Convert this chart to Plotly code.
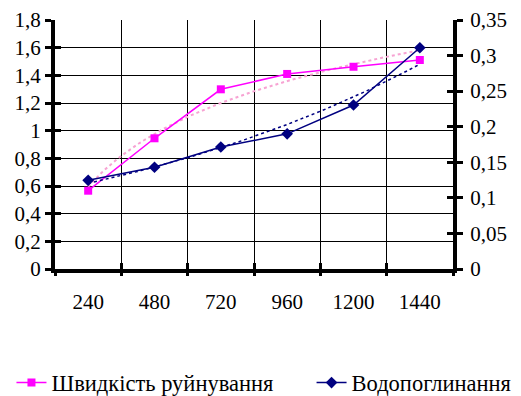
import numpy as np
import plotly.graph_objects as go

categories = ["240", "480", "720", "960", "1200", "1440"]
speed = [0.566, 0.945, 1.299, 1.41, 1.462, 1.511]          # Швидкість руйнування (left axis)
water = [0.1247, 0.143, 0.1715, 0.19, 0.2305, 0.311]       # Водопоглинання (right axis)
left_ticks = [0, 0.2, 0.4, 0.6, 0.8, 1, 1.2, 1.4, 1.6, 1.8]
right_ticks = [0, 0.05, 0.1, 0.15, 0.2, 0.25, 0.3, 0.35]

pos = np.arange(1, len(categories) + 1)

# Trendlines as in Excel: logarithmic for speed, exponential for water absorption
a_log, b_log = np.polyfit(np.log(pos), speed, 1)
k_exp, c_exp = np.polyfit(pos, np.log(water), 1)
xs = np.linspace(1, len(categories), 100)
speed_trend = a_log * np.log(xs) + b_log
water_trend = np.exp(c_exp + k_exp * xs)

PINK = "#FF00FF"
PINK_T = "#F7A3D3"
NAVY = "#000080"
FONT = "Liberation Serif"

fig = go.Figure()
fig.add_trace(go.Scatter(x=xs, y=speed_trend, mode="lines", line=dict(color=PINK_T, width=2, dash="dot"),
                         showlegend=False, hoverinfo="skip"))
fig.add_trace(go.Scatter(x=xs, y=water_trend, mode="lines", line=dict(color=NAVY, width=1.5, dash="dot"),
                         yaxis="y2", showlegend=False, hoverinfo="skip"))
fig.add_trace(go.Scatter(x=pos, y=speed, mode="lines+markers", name="Швидкість руйнування",
                         line=dict(color=PINK, width=1.5), marker=dict(symbol="square", size=8, color=PINK),
                         legend="legend"))
fig.add_trace(go.Scatter(x=pos, y=water, mode="lines+markers", name="Водопоглинання", yaxis="y2",
                         line=dict(color=NAVY, width=1.5), marker=dict(symbol="diamond", size=9, color=NAVY),
                         legend="legend2"))
# helper traces so the decorative overlay axes are rendered
for xa, ya in [("x2", "y3"), ("x3", "y4"), ("x", "y5")]:
    fig.add_trace(go.Scatter(x=[None], y=[None], xaxis=xa, yaxis=ya, showlegend=False, hoverinfo="skip"))

xr = [0.5, len(categories) + 0.5]
bounds = list(np.arange(0.5, len(categories) + 1, 1.0))
tickfont = dict(family=FONT, size=21, color="black")
legfont = dict(family=FONT, size=22.5, color="black")

fig.update_layout(
    width=521, height=396,
    margin=dict(l=55, r=68, t=20, b=127, autoexpand=False),
    paper_bgcolor="white", plot_bgcolor="white",
    separators=", ",
    font=dict(family=FONT, size=21, color="black"),
    xaxis=dict(range=xr, tickvals=list(pos), ticktext=categories, ticks="", showgrid=False,
               zeroline=False, showline=True, linewidth=4, linecolor="black",
               tickfont=tickfont, ticklabelstandoff=11),
    xaxis2=dict(overlaying="x", range=xr, tickvals=bounds, ticks="outside", ticklen=6, tickwidth=3,
                tickcolor="black", showticklabels=False, showgrid=True, gridcolor="black", gridwidth=1,
                zeroline=False, showline=False),
    xaxis3=dict(overlaying="x", range=xr, tickvals=bounds, ticks="inside", ticklen=6, tickwidth=3,
                tickcolor="black", showticklabels=False, showgrid=False, zeroline=False, showline=False),
    yaxis=dict(range=[0, 1.8], tickvals=left_ticks, ticks="outside", ticklen=6, tickwidth=3,
               tickcolor="black", showgrid=False, zeroline=False, showline=True, linewidth=4,
               linecolor="black", tickfont=tickfont),
    yaxis2=dict(overlaying="y", side="right", range=[0, 0.35], tickvals=right_ticks, ticks="outside",
                ticklen=6, tickwidth=3, tickcolor="black", showgrid=False, zeroline=False, showline=True,
                linewidth=4, linecolor="black", tickfont=tickfont, ticklabelstandoff=3),
    yaxis3=dict(overlaying="y", range=[0, 1.8], tickvals=left_ticks[1:-1], ticks="", showticklabels=False,
                showgrid=True, gridcolor="black", gridwidth=1, zeroline=False, showline=False),
    yaxis4=dict(overlaying="y", range=[0, 1.8], tickvals=left_ticks, ticks="inside", ticklen=6, tickwidth=3,
                tickcolor="black", showticklabels=False, showgrid=False, zeroline=False, showline=False),
    yaxis5=dict(overlaying="y", side="right", range=[0, 0.35], tickvals=right_ticks, ticks="inside",
                ticklen=6, tickwidth=3, tickcolor="black", showticklabels=False, showgrid=False,
                zeroline=False, showline=False),
    legend=dict(orientation="h", xref="container", yref="container", x=0.022, xanchor="left",
                y=0.033, yanchor="middle", font=legfont, bgcolor="rgba(0,0,0,0)"),
    legend2=dict(orientation="h", xref="container", yref="container", x=0.598, xanchor="left",
                 y=0.033, yanchor="middle", font=legfont, bgcolor="rgba(0,0,0,0)"),
    showlegend=True,
)

fig.write_html("out.html")
